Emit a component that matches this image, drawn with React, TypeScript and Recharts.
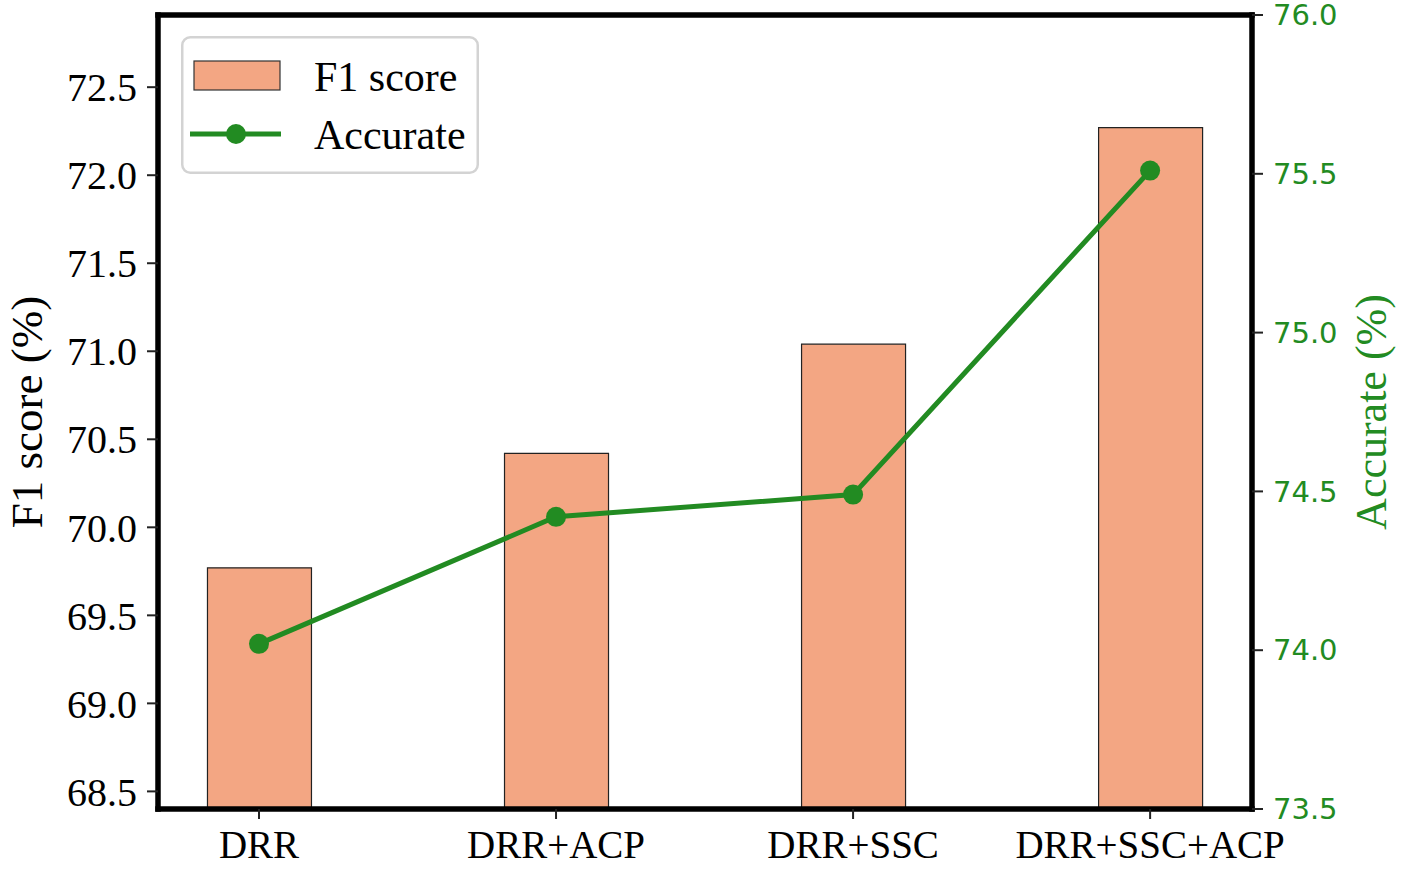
import React from 'react';
import { ComposedChart, Bar, Line, XAxis, YAxis, Legend, ReferenceLine } from 'recharts';

const categories = ['DRR', 'DRR+ACP', 'DRR+SSC', 'DRR+SSC+ACP'];
const f1Scores = [69.77, 70.42, 71.04, 72.27];
const accurate = [74.02, 74.42, 74.49, 75.51];
const leftTicks = [68.5, 69.0, 69.5, 70.0, 70.5, 71.0, 71.5, 72.0, 72.5];
const rightTicks = [73.5, 74.0, 74.5, 75.0, 75.5, 76.0];
const xTicks = categories.map((_, i) => i);

const data = categories.map((name, i) => ({ x: i, name, f1: f1Scores[i], acc: accurate[i] }));

const BAR_COLOR = '#F3A683';
const GREEN = '#228B22';
const SERIF = '"Liberation Serif", "Times New Roman", serif';
const SANS = '"DejaVu Sans", sans-serif';
const X_DOMAIN: [number, number] = [-0.34, 3.343];
const LEFT_DOMAIN: [number, number] = [68.4, 72.91];
const RIGHT_DOMAIN: [number, number] = [73.5, 76.0];

const FRAME = { stroke: '#000', strokeWidth: 5.5, strokeLinecap: 'square' as const };

const LegendBox = () => (
  <svg width={303} height={143} style={{ display: 'block' }}>
    <rect x={3.25} y={3.25} width={295.5} height={135.5} rx={8} ry={8}
      fill="#ffffff" fillOpacity={0.8} stroke="#d3d3d3" strokeWidth={2.5} />
    <rect x={15} y={27} width={86} height={29} fill={BAR_COLOR} stroke="#333" strokeWidth={1.2} />
    <text x={135} y={57} fontFamily={SERIF} fontSize={42} fill="#000">F1 score</text>
    <line x1={11} y1={100} x2={102} y2={100} stroke={GREEN} strokeWidth={5} />
    <circle cx={57} cy={100} r={10} fill={GREEN} />
    <text x={135} y={115} fontFamily={SERIF} fontSize={42} fill="#000">Accurate</text>
  </svg>
);

export default function App() {
  return (
    <div style={{ position: 'absolute', left: 0, top: 0, background: '#fff' }}>
      <ComposedChart width={1401} height={872} data={data}
        margin={{ top: 15, right: 0, bottom: 0, left: 0 }}>
        <XAxis
          xAxisId="bottom"
          dataKey="x"
          type="number"
          domain={X_DOMAIN}
          allowDataOverflow
          ticks={xTicks}
          interval={0}
          tickFormatter={(v: number) => categories[v]}
          height={63}
          axisLine={false}
          tickLine={{ stroke: '#222', strokeWidth: 2 }}
          tickSize={10}
          tickMargin={11}
          tick={{ fontFamily: SERIF, fontSize: 39, fill: '#000' }}
        />
        <YAxis
          yAxisId="left"
          orientation="left"
          type="number"
          domain={LEFT_DOMAIN}
          allowDataOverflow
          ticks={leftTicks}
          interval={0}
          tickFormatter={(v: number) => v.toFixed(1)}
          width={158}
          axisLine={false}
          tickLine={{ stroke: '#222', strokeWidth: 2 }}
          tickSize={11}
          tickMargin={10}
          tick={{ fontFamily: SERIF, fontSize: 40, fill: '#000' }}
          label={{
            value: 'F1 score (%)',
            angle: -90,
            position: 'insideLeft',
            offset: 26,
            style: { textAnchor: 'middle', fontFamily: SERIF, fontSize: 45, fill: '#000' },
          }}
        />
        <YAxis
          yAxisId="right"
          orientation="right"
          type="number"
          domain={RIGHT_DOMAIN}
          allowDataOverflow
          ticks={rightTicks}
          interval={0}
          tickFormatter={(v: number) => v.toFixed(1)}
          width={149}
          axisLine={false}
          tickLine={{ stroke: '#222', strokeWidth: 2 }}
          tickSize={11}
          tickMargin={10}
          tick={{ fontFamily: SANS, fontSize: 29, fill: GREEN }}
          label={{
            value: 'Accurate (%)',
            angle: -90,
            position: 'insideRight',
            offset: 31,
            style: { textAnchor: 'middle', fontFamily: SERIF, fontSize: 44, fill: GREEN },
          }}
        />
        <Bar
          xAxisId="bottom"
          yAxisId="left"
          dataKey="f1"
          name="F1 score"
          barSize={104}
          fill={BAR_COLOR}
          stroke="#222"
          strokeWidth={1.2}
          isAnimationActive={false}
        />
        <Line
          xAxisId="bottom"
          yAxisId="right"
          dataKey="acc"
          name="Accurate"
          type="linear"
          stroke={GREEN}
          strokeWidth={5}
          dot={{ r: 10, fill: GREEN, stroke: 'none' }}
          activeDot={false}
          isAnimationActive={false}
        />
        <ReferenceLine xAxisId="bottom" yAxisId="left" y={LEFT_DOMAIN[0]} {...FRAME} />
        <ReferenceLine xAxisId="bottom" yAxisId="left" y={LEFT_DOMAIN[1]} {...FRAME} />
        <ReferenceLine xAxisId="bottom" yAxisId="left" x={X_DOMAIN[0]} {...FRAME} />
        <ReferenceLine xAxisId="bottom" yAxisId="left" x={X_DOMAIN[1]} {...FRAME} />
        <Legend
          layout="horizontal"
          verticalAlign="middle"
          align="center"
          content={() => <LegendBox />}
          wrapperStyle={{ position: 'absolute', left: 179, top: 34, width: 303, height: 143 }}
        />
      </ComposedChart>
    </div>
  );
}
